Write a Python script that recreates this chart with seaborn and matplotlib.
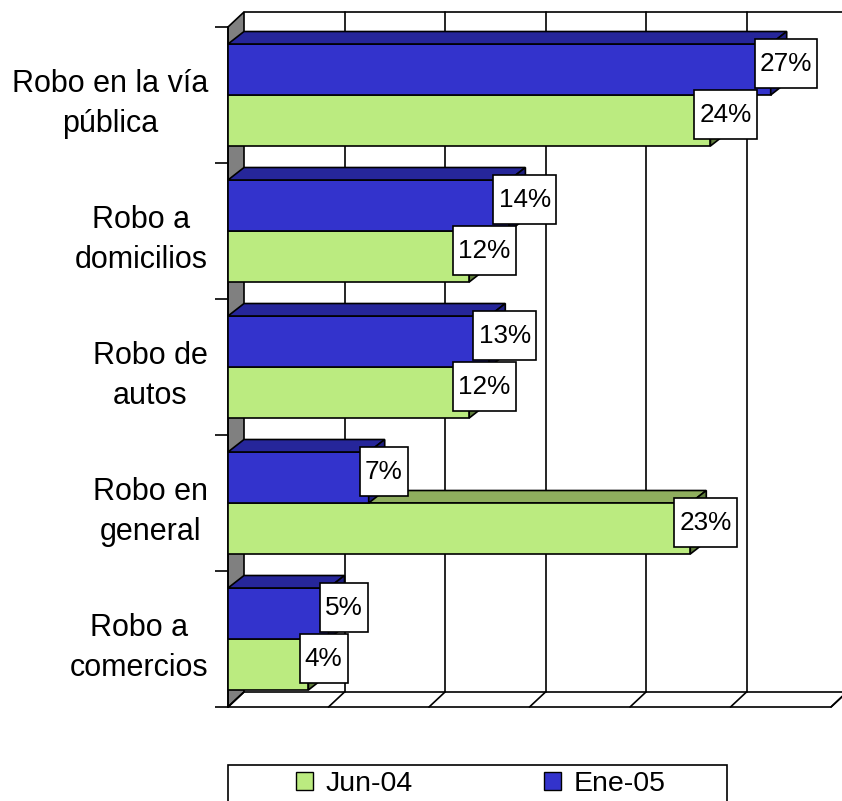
import numpy as np
import pandas as pd
import matplotlib
matplotlib.use('Agg')
import matplotlib.pyplot as plt
from matplotlib.patches import Polygon, Rectangle, Patch
from matplotlib.path import Path
import seaborn as sns

# datos
categorias = ['Robo en la vía\npública', 'Robo a\ndomicilios', 'Robo de\nautos',
              'Robo en\ngeneral', 'Robo a\ncomercios']
jun_04 = [24, 12, 12, 23, 4]
ene_05 = [27, 14, 13, 7, 5]
x_ticks = [0, 5, 10, 15, 20, 25, 30]

colores = {'Jun-04': '#BBEB80', 'Ene-05': '#3333CC'}
tapas = {'Jun-04': '#8FAE5E', 'Ene-05': '#26269A'}
lados = {'Jun-04': '#5F7D3C', 'Ene-05': '#1E1E80'}

df = pd.DataFrame({
    'categoria': categorias + categorias,
    'valor': ene_05 + jun_04,
    'periodo': ['Ene-05'] * len(categorias) + ['Jun-04'] * len(categorias),
})

sns.set_style('white')
plt.rcParams['font.family'] = ['Liberation Sans', 'DejaVu Sans']
plt.rcParams['text.color'] = 'black'
plt.rcParams['ytick.labelcolor'] = 'black'

W, H = 842, 801
fig = plt.figure(figsize=(W / 100, H / 100), dpi=100)
# front plane of the 3D box, in pixels
L, R, T, B = 228, 831, 27, 707
ax = fig.add_axes([L / W, 1 - B / H, (R - L) / W, (B - T) / H])

sns.barplot(data=df, y='categoria', x='valor', hue='periodo',
            hue_order=['Ene-05', 'Jun-04'], order=categorias, palette=colores,
            width=0.75, saturation=1, errorbar=None, orient='h',
            edgecolor='black', linewidth=1.2, legend=False, ax=ax)
barras = [b for c in ax.containers for b in c]

n = len(categorias)
ax.set_xlim(x_ticks[0], x_ticks[-1])
ax.set_ylim(n - 0.5, -0.5)
ax.patch.set_visible(False)

px_x = (R - L) / (x_ticks[-1] - x_ticks[0])
px_y = (B - T) / n
DX, DY = 16 / px_x, 15 / px_y      # box depth
dxb, dyb = 16 / px_x, 12.5 / px_y  # bar depth
y_top, y_bot = -0.5, n - 0.5
xmax = x_ticks[-1]
lw = 1.2


def caja(x0, y0, width, height, mutation_size):
    # label box: narrow side padding, tall top/bottom padding
    px, py = 0.2 * mutation_size, 0.47 * mutation_size
    return Path([(x0 - px, y0 - py), (x0 + width + px, y0 - py),
                 (x0 + width + px, y0 + height + py), (x0 - px, y0 + height + py),
                 (x0 - px, y0 - py)], closed=True)


# wall, floor and back grid
ax.add_patch(Polygon([(0, y_bot), (DX, y_bot - DY), (DX, y_top - DY), (0, y_top)],
                     closed=True, fc='#808080', ec='black', lw=lw, zorder=0.5, clip_on=False))
ax.add_patch(Polygon([(0, y_bot), (xmax, y_bot), (xmax + DX, y_bot - DY), (DX, y_bot - DY)],
                     closed=True, fc='white', ec='black', lw=lw, zorder=0.5, clip_on=False))
for xt in x_ticks:
    ax.plot([xt, xt + DX], [y_bot, y_bot - DY], color='black', lw=lw, zorder=0.6, clip_on=False)
    if xt > 0:
        ax.plot([xt + DX, xt + DX], [y_bot - DY, y_top - DY], color='black', lw=lw,
                zorder=0.6, clip_on=False)
ax.plot([DX, xmax + DX], [y_top - DY, y_top - DY], color='black', lw=lw, zorder=0.6, clip_on=False)

# 3D faces on the bars
for p in barras:
    fc = p.get_facecolor()
    per = 'Ene-05' if fc[2] > 0.6 and fc[1] < 0.5 else 'Jun-04'
    zf = 4 if per == 'Ene-05' else 3
    zb = 4.1 if per == 'Ene-05' else 2
    p.set_zorder(zf)
    x0, y0, w, h = p.get_x(), p.get_y(), p.get_width(), p.get_height()
    ax.add_patch(Polygon([(x0, y0), (x0 + w, y0), (x0 + w + dxb, y0 - dyb), (x0 + dxb, y0 - dyb)],
                         closed=True, fc=tapas[per], ec='black', lw=lw, zorder=zb, clip_on=False))
    ax.add_patch(Polygon([(x0 + w, y0), (x0 + w, y0 + h), (x0 + w + dxb, y0 + h - dyb),
                          (x0 + w + dxb, y0 - dyb)],
                         closed=True, fc=lados[per], ec='black', lw=lw, zorder=zb, clip_on=False))
    ax.annotate(f'{w:.0f}%', (x0 + w, y0 + h / 2), xytext=(11, 4.3), textcoords='offset points',
                ha='center', va='center', fontsize=18.8, zorder=10,
                bbox=dict(boxstyle=caja, fc='white', ec='black', lw=lw))

# axes
for s in ['top', 'right', 'bottom']:
    ax.spines[s].set_visible(False)
ax.spines['left'].set_color('black')
ax.spines['left'].set_linewidth(lw)
ax.set_xticks(x_ticks)
ax.set_xticklabels([])
ax.tick_params(axis='x', length=0)
ax.set_yticks(range(n))
ax.set_yticklabels(categorias)
ax.set_yticks(np.arange(-0.5, n), minor=True)
ax.tick_params(axis='y', which='major', length=0, pad=14.4, labelsize=22, labelcolor='black')
ax.tick_params(axis='y', which='minor', left=True, length=9.4, width=lw, color='black')
for lab in ax.get_yticklabels():
    lab.set_ha('right')
    lab.set_multialignment('center')
    lab.set_linespacing(1.45)
ax.set_xlabel('')
ax.set_ylabel('')

# legend
fig.add_artist(Rectangle((228 / W, (801 - 830) / H), 499 / W, 65 / H, transform=fig.transFigure,
                         fill=False, ec='black', lw=lw))
handles = [Patch(fc=colores['Jun-04'], ec='black', label='Jun-04'),
           Patch(fc=colores['Ene-05'], ec='black', label='Ene-05')]
fig.legend(handles=handles, loc='center', bbox_to_anchor=(481 / W, 1 - 784 / H), ncol=2,
           frameon=False, fontsize=20.5, handlelength=0.6, handleheight=0.6,
           handletextpad=0.45, columnspacing=4.6)

fig.savefig('out.png', dpi=100)
